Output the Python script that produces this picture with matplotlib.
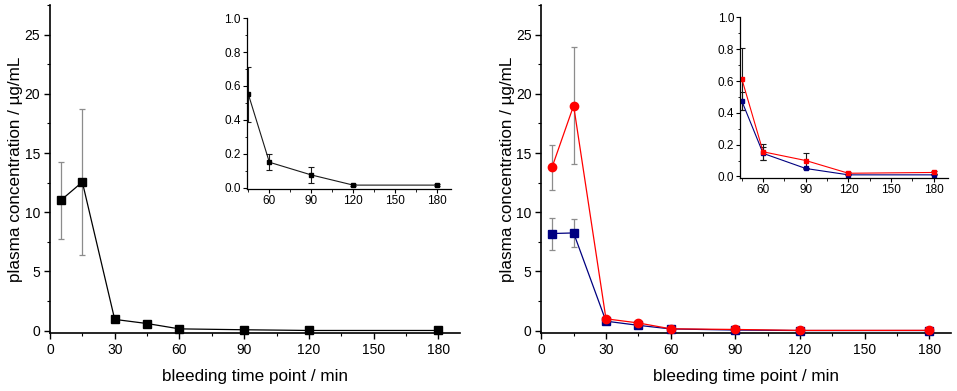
import matplotlib
matplotlib.use("Agg")
import matplotlib.pyplot as plt
from matplotlib.ticker import MultipleLocator

plt.rcParams["font.family"] = ["Liberation Sans", "DejaVu Sans"]

# bleeding time points (min)
t = [5, 15, 30, 45, 60, 90, 120, 180]
t_in = [45, 60, 90, 120, 180]

# left panel (single formulation)
left_mean = [11.0, 12.55, 0.95, 0.6, 0.15, 0.075, 0.015, 0.015]
left_err = [3.25, 6.2, 0.0, 0.0, 0.0, 0.0, 0.0, 0.0]
left_in_mean = [0.55, 0.15, 0.075, 0.015, 0.015]
left_in_err = [0.16, 0.048, 0.045, 0.004, 0.006]

# right panel (two formulations)
red_mean = [13.8, 19.0, 1.0, 0.65, 0.155, 0.1, 0.02, 0.025]
red_err = [1.9, 4.95, 0.0, 0.0, 0.0, 0.0, 0.0, 0.0]
blue_mean = [8.2, 8.25, 0.8, 0.45, 0.145, 0.05, 0.01, 0.01]
blue_err = [1.35, 1.15, 0.0, 0.0, 0.0, 0.0, 0.0, 0.0]
red_in_mean = [0.615, 0.155, 0.1, 0.02, 0.025]
red_in_err = [0.195, 0.05, 0.05, 0.005, 0.008]
blue_in_mean = [0.475, 0.145, 0.05, 0.01, 0.01]
blue_in_err = [0.055, 0.04, 0.005, 0.003, 0.003]

RED = "#ff0000"
NAVY = "#000080"

fig = plt.figure(figsize=(9.57, 3.91), dpi=100)


def style_main(ax):
    for s in ["top", "right"]:
        ax.spines[s].set_visible(False)
    for s in ["left", "bottom"]:
        ax.spines[s].set_linewidth(1.2)
    ax.set_xlim(0, 190)
    ax.set_ylim(-0.2, 27.5)
    ax.set_xticks([0, 30, 60, 90, 120, 150, 180])
    ax.set_yticks([0, 5, 10, 15, 20, 25])
    ax.xaxis.set_minor_locator(MultipleLocator(15))
    ax.yaxis.set_minor_locator(MultipleLocator(2.5))
    ax.tick_params(which="major", direction="out", length=4.5, width=1.0,
                   labelsize=10, pad=2.5)
    ax.tick_params(which="minor", direction="out", length=2.5, width=0.8)
    ax.set_xlabel("bleeding time point / min", fontsize=12.3, labelpad=9)
    ax.set_ylabel("plasma concentration / \u00b5g/mL", fontsize=12.3, labelpad=1)


def style_inset(ax):
    for s in ["top", "right"]:
        ax.spines[s].set_visible(False)
    for s in ["left", "bottom"]:
        ax.spines[s].set_linewidth(0.9)
    ax.set_xlim(44, 190)
    ax.set_ylim(-0.008, 1.0)
    ax.set_xticks([60, 90, 120, 150, 180])
    ax.set_yticks([0.0, 0.2, 0.4, 0.6, 0.8, 1.0])
    ax.set_yticklabels(["0.0", "0.2", "0.4", "0.6", "0.8", "1.0"])
    ax.xaxis.set_minor_locator(MultipleLocator(15))
    ax.yaxis.set_minor_locator(MultipleLocator(0.1))
    ax.tick_params(which="major", direction="out", length=3, width=0.8,
                   labelsize=8.5, pad=1.5)
    ax.tick_params(which="minor", direction="out", length=1.8, width=0.6)
    ax.patch.set_alpha(0)


# --- left main ---
ax1 = fig.add_axes([0.0522, 0.1483, 0.4285, 0.839])
ax1.errorbar(t, left_mean, yerr=left_err, color="black", lw=0.9,
             marker="s", ms=5.5, mfc="black", mec="black",
             ecolor="#8c8c8c", elinewidth=0.9, capsize=2.5, capthick=0.9,
             clip_on=False, zorder=3)
style_main(ax1)

# --- left inset ---
ax1i = fig.add_axes([0.2581, 0.5166, 0.2132, 0.437])
ax1i.errorbar(t_in, left_in_mean, yerr=left_in_err, color="#1a1a1a", lw=0.8,
              marker="s", ms=2.3, mfc="black", mec="black",
              ecolor="#1a1a1a", elinewidth=0.8, capsize=2, capthick=0.8)
style_inset(ax1i)

# --- right main ---
ax2 = fig.add_axes([0.5656, 0.1483, 0.4281, 0.839])
ax2.errorbar(t, blue_mean, yerr=blue_err, color=NAVY, lw=0.9,
             marker="s", ms=5.5, mfc=NAVY, mec=NAVY,
             ecolor="#8c8c8c", elinewidth=0.9, capsize=2.5, capthick=0.9,
             clip_on=False, zorder=3)
ax2.errorbar(t, red_mean, yerr=red_err, color=RED, lw=0.9,
             marker="o", ms=6, mfc=RED, mec=RED,
             ecolor="#8c8c8c", elinewidth=0.9, capsize=2.5, capthick=0.9,
             clip_on=False, zorder=4)
style_main(ax2)

# --- right inset ---
ax2i = fig.add_axes([0.7736, 0.5455, 0.217, 0.41])
ax2i.errorbar(t_in, blue_in_mean, yerr=blue_in_err, color=NAVY, lw=0.8,
              marker="s", ms=2.3, mfc=NAVY, mec=NAVY,
              ecolor="#1a1a1a", elinewidth=0.8, capsize=2, capthick=0.8)
ax2i.errorbar(t_in, red_in_mean, yerr=red_in_err, color=RED, lw=0.8,
              marker="s", ms=2.3, mfc=RED, mec=RED,
              ecolor="#1a1a1a", elinewidth=0.8, capsize=2, capthick=0.8)
style_inset(ax2i)

fig.savefig("out.png", dpi=100)
